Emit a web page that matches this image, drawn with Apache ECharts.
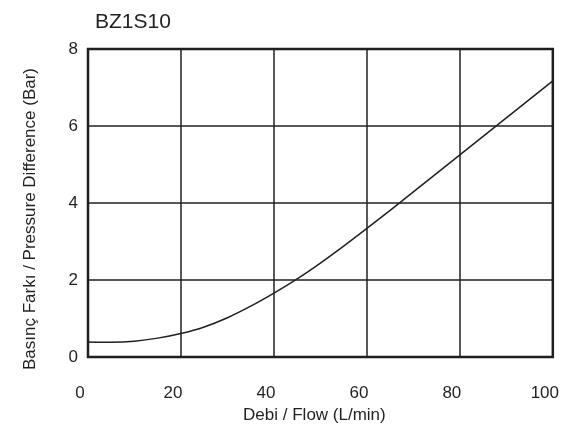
<!DOCTYPE html>
<html>
<head>
<meta charset="utf-8">
<script src="https://cdn.jsdelivr.net/npm/echarts@6/dist/echarts.min.js"></script>
<style>
html,body{margin:0;padding:0;background:#fff;}
#c{width:562px;height:443px;}
</style>
</head>
<body>
<div id="c"></div>
<script>
var titleText = "BZ1S10";
var xName = "Debi / Flow (L/min)";
var yName = "Basınç Farkı / Pressure Difference (Bar)";
var flow = [0, 5, 10, 15, 20, 25, 30, 35, 40, 45, 50, 55, 60, 65, 70, 75, 80, 85, 90, 95, 100];
var pressure = [0.39, 0.38, 0.41, 0.49, 0.61, 0.78, 1.02, 1.32, 1.66, 2.03, 2.44, 2.88, 3.34, 3.81, 4.29, 4.77, 5.25, 5.73, 6.21, 6.69, 7.17];

var FONT = "'Liberation Sans', Arial, sans-serif";
var pts = flow.map(function (f, i) { return [f, pressure[i]]; });

var chart = echarts.init(document.getElementById('c'), null, {renderer: 'canvas'});
chart.setOption({
  animation: false,
  backgroundColor: '#fff',
  title: {
    text: titleText,
    left: 90, top: 7,
    textStyle: {fontFamily: FONT, fontSize: 21, fontWeight: 'normal', color: '#231f20'}
  },
  grid: {
    left: 88, right: 9, top: 49, bottom: 86,
    show: true, borderColor: '#231f20', borderWidth: 2.5, backgroundColor: 'transparent'
  },
  xAxis: {
    type: 'value', min: 0, max: 100, interval: 20,
    name: xName, nameLocation: 'middle', nameGap: 46,
    nameTextStyle: {fontFamily: FONT, fontSize: 17, color: '#231f20', padding: [0, 12, 0, 0]},
    axisLine: {show: false}, axisTick: {show: false},
    axisLabel: {fontFamily: FONT, fontSize: 17, color: '#231f20', margin: 28, padding: [0, 16, 0, 0]},
    splitLine: {show: true, lineStyle: {color: '#231f20', width: 1.5}}
  },
  yAxis: {
    type: 'value', min: 0, max: 8, interval: 2,
    name: yName, nameLocation: 'middle', nameGap: 49,
    nameTextStyle: {fontFamily: FONT, fontSize: 17, color: '#231f20', padding: [0, 32, 0, 0]},
    axisLine: {show: false}, axisTick: {show: false},
    axisLabel: {fontFamily: FONT, fontSize: 17, color: '#231f20', margin: 10, padding: [8, 0, 0, 0]},
    splitLine: {show: true, lineStyle: {color: '#231f20', width: 1.5}}
  },
  series: [{
    type: 'line',
    data: pts,
    smooth: 0.3,
    showSymbol: false,
    lineStyle: {color: '#231f20', width: 1.5}
  }]
});
</script>
</body>
</html>
